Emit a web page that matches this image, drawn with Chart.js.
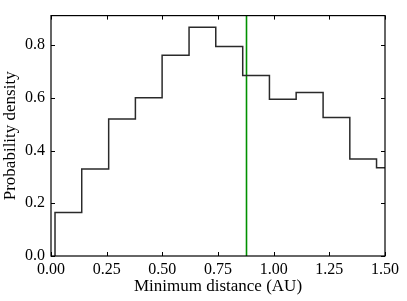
<!DOCTYPE html>
<html>
<head>
<meta charset="utf-8">
<script src="https://cdn.jsdelivr.net/npm/chart.js@4"></script>
<style>
  html, body { margin: 0; padding: 0; background: #fff; }
  #wrap { width: 407px; height: 301px; }
</style>
</head>
<body>
<div id="wrap"><canvas id="c"></canvas></div>
<script>
// bin edges (AU) and densities
const binEdges = [0.018, 0.138, 0.259, 0.379, 0.499, 0.620, 0.740, 0.861, 0.981, 1.101, 1.222, 1.342, 1.462, 1.582];
const density = [0.165, 0.330, 0.520, 0.600, 0.762, 0.868, 0.795, 0.685, 0.595, 0.620, 0.525, 0.368, 0.335];
const markerX = 0.878; // green vertical line
const xTicks = [0, 0.25, 0.5, 0.75, 1.0, 1.25, 1.5];
const yTicks = [0, 0.2, 0.4, 0.6, 0.8];
const X_MIN = 0, X_MAX = 1.5, Y_MIN = 0, Y_MAX = 0.912;

// step outline: (e0,0) -> (e_i, h_i) ... -> (e_last, 0)
const histPoints = [{ x: binEdges[0], y: 0 }];
density.forEach((h, i) => histPoints.push({ x: binEdges[i], y: h }));
histPoints.push({ x: binEdges[binEdges.length - 1], y: density[density.length - 1] });
histPoints.push({ x: binEdges[binEdges.length - 1], y: 0 });

const FONT = "'Liberation Serif', 'DejaVu Serif', serif";

// inward ticks on all four sides + frame
const frameTicks = {
  id: "frameTicks",
  afterDatasetsDraw(chart) {
    const { ctx, chartArea: a, scales } = chart;
    const len = 4;
    ctx.save();
    ctx.strokeStyle = "#000";
    ctx.lineWidth = 1;
    ctx.beginPath();
    xTicks.forEach((v) => {
      const px = Math.round(scales.x.getPixelForValue(v)) + 0.5;
      ctx.moveTo(px, a.bottom); ctx.lineTo(px, a.bottom - len);
      ctx.moveTo(px, a.top); ctx.lineTo(px, a.top + len);
    });
    yTicks.forEach((v) => {
      const py = Math.round(scales.y.getPixelForValue(v)) + 0.5;
      ctx.moveTo(a.left, py); ctx.lineTo(a.left + len, py);
      ctx.moveTo(a.right, py); ctx.lineTo(a.right - len, py);
    });
    ctx.stroke();
    ctx.lineWidth = 1.2;
    ctx.strokeRect(a.left, a.top, a.right - a.left, a.bottom - a.top);
    ctx.restore();
  },
};

new Chart(document.getElementById("c"), {
  type: "line",
  data: {
    datasets: [
      {
        data: histPoints,
        stepped: "before",
        borderColor: "#2a2a2a",
        borderWidth: 1.5,
        pointRadius: 0,
        fill: false,
      },
      {
        data: [{ x: markerX, y: Y_MIN }, { x: markerX, y: Y_MAX }],
        borderColor: "rgb(0,145,0)",
        borderWidth: 1.6,
        pointRadius: 0,
        fill: false,
      },
    ],
  },
  options: {
    responsive: true,
    maintainAspectRatio: false,
    animation: false,
    layout: { padding: { left: 0, right: 22, top: 6, bottom: 0 } },
    plugins: { legend: { display: false }, tooltip: { enabled: false } },
    scales: {
      x: {
        type: "linear",
        min: X_MIN,
        max: X_MAX,
        afterBuildTicks: (s) => { s.ticks = xTicks.map((v) => ({ value: v })); },
        afterFit: (s) => { s.height = 45; },
        grid: { display: false, drawTicks: false },
        border: { display: false },
        ticks: {
          color: "#000",
          padding: 4,
          maxRotation: 0,
          font: { family: FONT, size: 16 },
          callback: (v) => Number(v).toFixed(2),
        },
        title: {
          display: true,
          text: "Minimum distance (AU)",
          color: "#000",
          font: { family: FONT, size: 17 },
          padding: { top: 0, bottom: 4 },
        },
      },
      y: {
        min: Y_MIN,
        max: Y_MAX,
        afterBuildTicks: (s) => { s.ticks = yTicks.map((v) => ({ value: v })); },
        afterFit: (s) => { s.width = 51; },
        grid: { display: false, drawTicks: false },
        border: { display: false },
        ticks: {
          color: "#000",
          padding: 6,
          font: { family: FONT, size: 16 },
          callback: (v) => Number(v).toFixed(1),
        },
        title: {
          display: true,
          text: "Probability density",
          color: "#000",
          font: { family: FONT, size: 17 },
          padding: { top: 0, bottom: 2 },
        },
      },
    },
  },
  plugins: [frameTicks],
});
</script>
</body>
</html>
